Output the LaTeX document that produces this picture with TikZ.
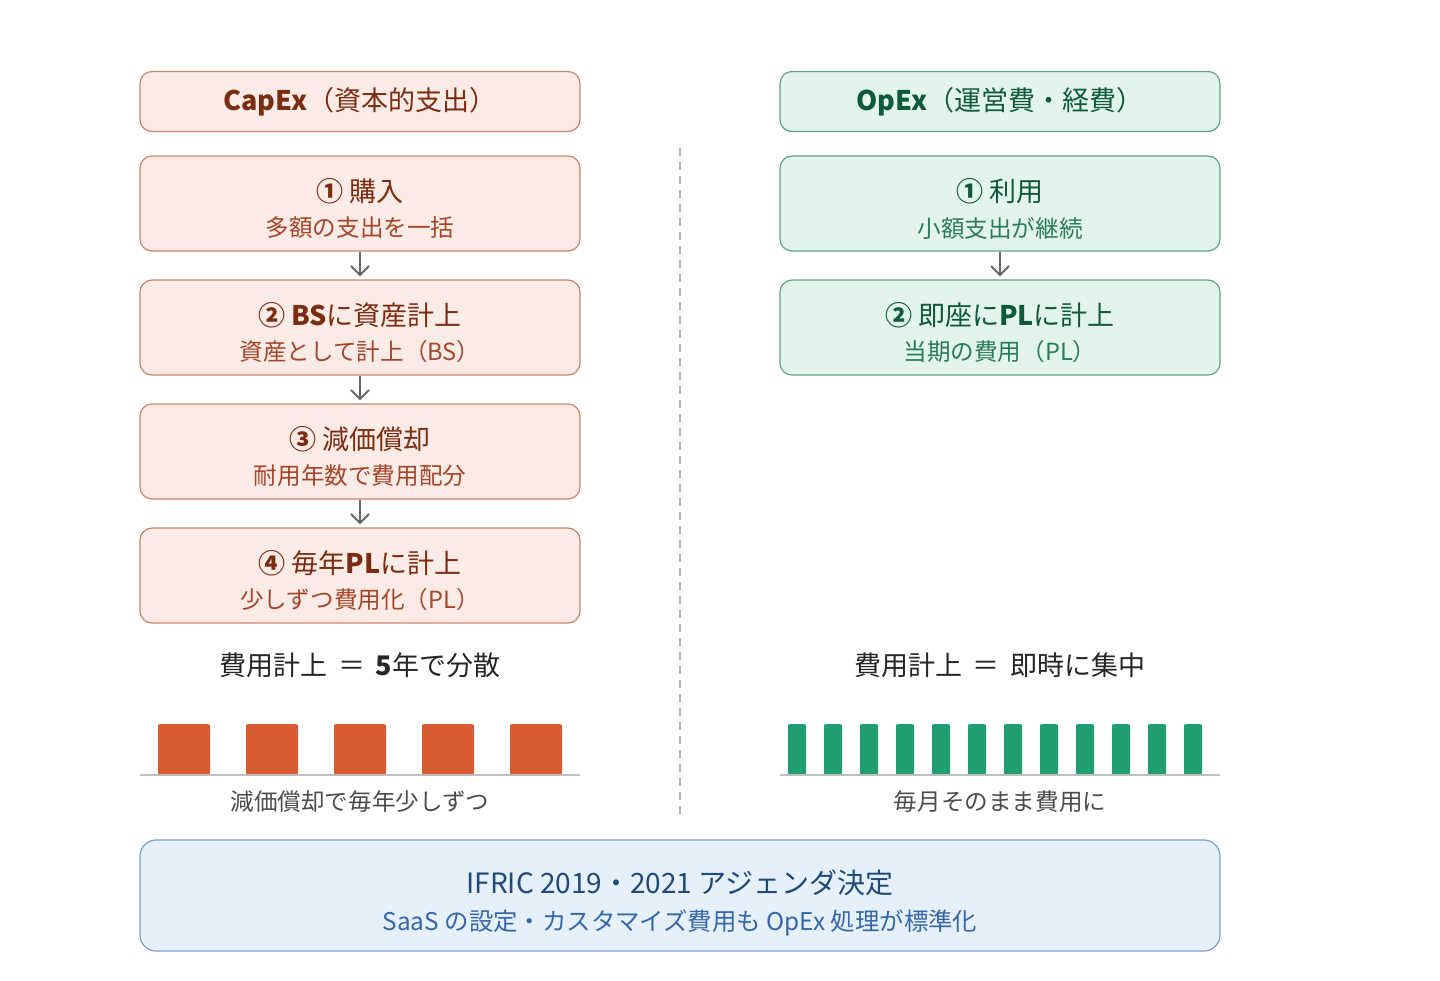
\documentclass[tikz,border=0pt]{standalone}
\usepackage{fontspec}
\setmainfont{Noto Sans CJK JP}
\usetikzlibrary{arrows.meta}

\definecolor{capfill}{HTML}{FBEBE6}
\definecolor{capdraw}{HTML}{C8836D}
\definecolor{captext}{HTML}{7B2D12}
\definecolor{capsub}{HTML}{A4462A}
\definecolor{capbar}{HTML}{D95B31}
\definecolor{opfill}{HTML}{E2F4EC}
\definecolor{opdraw}{HTML}{5EA585}
\definecolor{optext}{HTML}{0F5A3C}
\definecolor{opsub}{HTML}{2D7C58}
\definecolor{opbar}{HTML}{1F9E70}
\definecolor{ifrsfill}{HTML}{E6F0FA}
\definecolor{ifrsdraw}{HTML}{7D9FC8}
\definecolor{ifrstext}{HTML}{1F4A7A}
\definecolor{ifrssub}{HTML}{3567A8}

\begin{document}
\begin{tikzpicture}[x=0.5pt, y=-0.5pt,
    box/.style={rounded corners=6pt, line width=0.6pt, minimum width=220pt},
    capbox/.style={box, draw=capdraw, fill=capfill},
    opbox/.style={box, draw=opdraw, fill=opfill},
    headbox/.style={minimum height=30pt, font=\fontsize{13.5pt}{16pt}\selectfont},
    stepbox/.style={minimum height=47.5pt},
    big/.style={inner sep=0pt, font=\fontsize{13.5pt}{16pt}\selectfont},
    small/.style={inner sep=0pt, font=\fontsize{11.8pt}{14pt}\selectfont},
    flow/.style={draw=black!60, line width=1pt, -{Straight Barb[length=4.5pt, width=9pt, line width=1pt]}, shorten >=1.5pt},
    bar/.style={rounded corners=1pt, draw=none},
    caption/.style={small, text=black!70}
]
\useasboundingbox (0,0) rectangle (1440,980);

% CapEx column
\node[capbox, headbox, text=captext] (caphead) at (360,101.5) {\textbf{CapEx}（資本的支出）};
\node[capbox, stepbox] (cap1) at (360,203.5) {};
\node[capbox, stepbox] (cap2) at (360,327.5) {};
\node[capbox, stepbox] (cap3) at (360,451.5) {};
\node[capbox, stepbox] (cap4) at (360,575.5) {};
\node[big, text=captext] (cap1t) at ([yshift=6.25pt]cap1.center) {\textbf{①} 購入};
\node[small, text=capsub] (cap1s) at ([yshift=-12.25pt]cap1.center) {多額の支出を一括};
\node[big, text=captext] (cap2t) at ([yshift=6.25pt]cap2.center) {\textbf{② BS}に資産計上};
\node[small, text=capsub] (cap2s) at ([yshift=-12.25pt]cap2.center) {資産として計上（BS）};
\node[big, text=captext] (cap3t) at ([yshift=6.25pt]cap3.center) {\textbf{③} 減価償却};
\node[small, text=capsub] (cap3s) at ([yshift=-12.25pt]cap3.center) {耐用年数で費用配分};
\node[big, text=captext] (cap4t) at ([yshift=6.25pt]cap4.center) {\textbf{④} 毎年\textbf{PL}に計上};
\node[small, text=capsub] (cap4s) at ([yshift=-12.25pt]cap4.center) {少しずつ費用化（PL）};
\draw[flow] (cap1) -- (cap2);
\draw[flow] (cap2) -- (cap3);
\draw[flow] (cap3) -- (cap4);

% OpEx column
\node[opbox, headbox, text=optext] (ophead) at (1000,101.5) {\textbf{OpEx}（運営費・経費）};
\node[opbox, stepbox] (op1) at (1000,203.5) {};
\node[opbox, stepbox] (op2) at (1000,327.5) {};
\node[big, text=optext] (op1t) at ([yshift=6.25pt]op1.center) {\textbf{①} 利用};
\node[small, text=opsub] (op1s) at ([yshift=-12.25pt]op1.center) {小額支出が継続};
\node[big, text=optext] (op2t) at ([yshift=6.25pt]op2.center) {\textbf{②} 即座に\textbf{PL}に計上};
\node[small, text=opsub] (op2s) at ([yshift=-12.25pt]op2.center) {当期の費用（PL）};
\draw[flow] (op1) -- (op2);

% divider
\draw[black!30, line width=1pt, dash pattern=on 4pt off 3pt] (680,148) -- (680,815);

% expense timing
\node[big, text=black!85] (capsum) at (360,665) {費用計上 \,＝\, \textbf{5}年で分散};
\node[big, text=black!85] (opsum) at (1000,665) {費用計上 \,＝\, 即時に集中};

% yearly bars
\foreach \i in {0,...,4}
    \fill[capbar, bar] (158+88*\i,724) rectangle ++(52,51);
\draw[black!25, line width=1pt] (140,775) -- (580,775);
\node[caption] (capnote) at (360,802) {減価償却で毎年少しずつ};

% monthly bars
\foreach \i in {0,...,11}
    \fill[opbar, bar] (788+36*\i,724) rectangle ++(18,51);
\draw[black!25, line width=1pt] (780,775) -- (1220,775);
\node[caption] (opnote) at (1000,802) {毎月そのまま費用に};

% IFRIC box
\node[rounded corners=8pt, line width=0.6pt, draw=ifrsdraw, fill=ifrsfill, minimum width=540pt, minimum height=55.5pt] (ifric) at (680,895.5) {};
\node[big, font=\fontsize{14pt}{16pt}\selectfont, text=ifrstext] (ifrict) at ([yshift=6.25pt]ifric.center) {IFRIC 2019・2021 アジェンダ決定};
\node[small, font=\fontsize{12.2pt}{14pt}\selectfont, text=ifrssub] (ifrics) at ([yshift=-13.75pt]ifric.center) {SaaS の設定・カスタマイズ費用も OpEx 処理が標準化};
\end{tikzpicture}
\end{document}
